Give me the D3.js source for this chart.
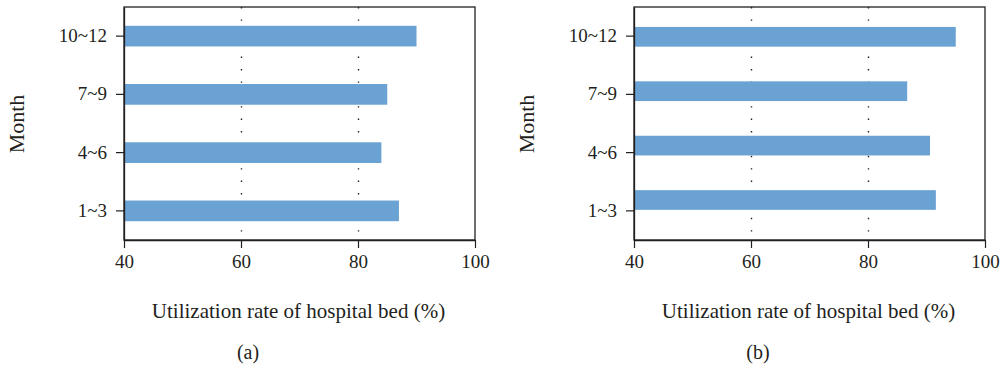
<!DOCTYPE html>
<html><head><meta charset="utf-8">
<script src="https://cdn.jsdelivr.net/npm/d3@7"></script>
<style>
body{margin:0;background:#fff;}
text{font-family:"Liberation Serif","DejaVu Serif",serif;fill:#231f20;}
</style></head>
<body><svg id="c" width="1002" height="368"></svg>
<script>
const categories = ["1~3","4~6","7~9","10~12"];
const valuesA = [87, 84, 85, 90];
const valuesB = [91.6, 90.6, 86.7, 95];
const xTicks = [40, 60, 80, 100];
const gridTicks = [60, 80];
const xTitle = "Utilization rate of hospital bed (%)";
const yTitle = "Month";
const panelLabels = ["(a)", "(b)"];

const svg = d3.select("#c");
const barColor = "#6aa2d3";
const ink = "#231f20";

function panel(left, values, label, barRange, barPad) {
  const right = left + 351, top = 7, bottom = 240;
  const g = svg.append("g");
  const x = d3.scaleLinear().domain([40, 100]).range([left, right]);
  const y = d3.scaleBand().domain(categories).range([bottom, top])
    .paddingInner(0.645).paddingOuter(0.3225);
  const yb = d3.scaleBand().domain(categories).range(barRange || [bottom, top])
    .paddingInner(barPad || 0.645).paddingOuter((barPad || 0.645) / 2);

  g.selectAll("line.grid").data(gridTicks).join("line")
    .attr("x1", d => Math.round(x(d)) + 0.5).attr("x2", d => Math.round(x(d)) + 0.5)
    .attr("y1", top).attr("y2", bottom)
    .attr("stroke", ink).attr("stroke-width", 1.4)
    .attr("stroke-dasharray", "1.4,11.0").attr("stroke-dashoffset", 0);

  g.selectAll("rect.bar").data(categories).join("rect")
    .attr("x", x(40)).attr("y", d => yb(d))
    .attr("width", (d, i) => x(values[i]) - x(40))
    .attr("height", yb.bandwidth()).attr("fill", barColor);

  g.append("rect").attr("x", left).attr("y", top)
    .attr("width", right - left).attr("height", bottom - top)
    .attr("fill", "none").attr("stroke", ink).attr("stroke-width", 1.3);

  const fs = "19px";
  const xa = g.append("g").attr("transform", `translate(0,${bottom})`)
    .call(d3.axisBottom(x).tickValues(xTicks).tickSize(8).tickPadding(7).tickSizeOuter(0));
  xa.attr("font-size", null).attr("font-family", null);
  xa.select(".domain").attr("stroke", ink).attr("stroke-width", 1.6);
  xa.selectAll(".tick line").attr("stroke", ink).attr("stroke-width", 1.2);
  xa.selectAll("text").style("font-size", fs).attr("fill", ink);

  const ya = g.append("g").attr("transform", `translate(${left},0)`)
    .call(d3.axisLeft(y).tickSize(8).tickPadding(9).tickSizeOuter(0));
  ya.attr("font-size", null).attr("font-family", null);
  ya.select(".domain").attr("stroke", ink).attr("stroke-width", 1.3);
  ya.selectAll(".tick line").attr("stroke", ink).attr("stroke-width", 1.2);
  ya.selectAll("text").style("font-size", fs).attr("fill", ink);

  g.append("text").attr("x", (left + right) / 2 - 1).attr("y", 318)
    .attr("text-anchor", "middle").style("font-size", "21px").text(xTitle);
  g.append("text").attr("transform", `translate(${left - 100},124) rotate(-90)`)
    .attr("text-anchor", "middle").style("font-size", "22px").text(yTitle);
  g.append("text").attr("x", left + 124).attr("y", 359)
    .attr("text-anchor", "middle").style("font-size", "20px").text(label);
}

panel(124, valuesA, panelLabels[0]);
panel(634, valuesB, panelLabels[1], [227.2, 9.6], 0.638);
</script></body></html>
